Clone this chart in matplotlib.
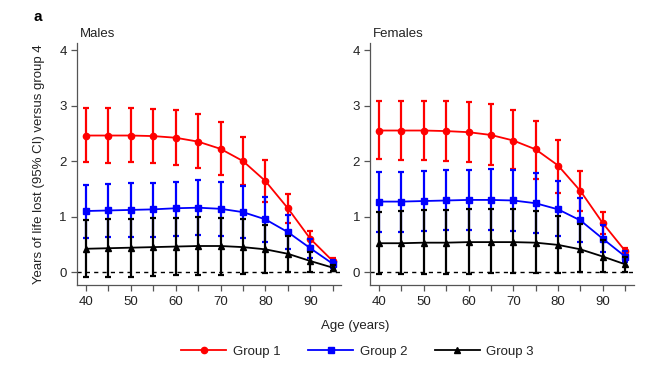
import numpy as np
import matplotlib
matplotlib.use('Agg')
import matplotlib.pyplot as plt

plt.rcParams['font.family'] = ['Liberation Sans', 'DejaVu Sans']

ages = [40, 45, 50, 55, 60, 65, 70, 75, 80, 85, 90, 95]
groups = ['Group 1', 'Group 2', 'Group 3']

# males: mean, upper, lower (years of life lost vs group 4)
m_g1 = [2.46, 2.46, 2.46, 2.45, 2.42, 2.35, 2.22, 2.00, 1.64, 1.15, 0.60, 0.20]
m_g1_hi = [2.95, 2.95, 2.95, 2.94, 2.92, 2.84, 2.70, 2.43, 2.02, 1.40, 0.74, 0.25]
m_g1_lo = [1.98, 1.97, 1.98, 1.96, 1.93, 1.87, 1.75, 1.57, 1.27, 0.88, 0.47, 0.15]
m_g2 = [1.10, 1.11, 1.12, 1.13, 1.15, 1.16, 1.14, 1.08, 0.95, 0.72, 0.43, 0.15]
m_g2_hi = [1.57, 1.59, 1.60, 1.61, 1.63, 1.65, 1.63, 1.55, 1.36, 1.03, 0.60, 0.22]
m_g2_lo = [0.62, 0.63, 0.64, 0.64, 0.65, 0.66, 0.65, 0.62, 0.54, 0.42, 0.26, 0.08]
m_g3 = [0.42, 0.43, 0.44, 0.45, 0.46, 0.47, 0.47, 0.45, 0.41, 0.33, 0.20, 0.08]
m_g3_hi = [0.94, 0.95, 0.96, 0.97, 0.98, 0.99, 0.98, 0.95, 0.85, 0.65, 0.37, 0.13]
m_g3_lo = [-0.09, -0.08, -0.08, -0.07, -0.06, -0.05, -0.05, -0.04, -0.02, 0.0, 0.01, 0.02]

# females
f_g1 = [2.55, 2.55, 2.55, 2.54, 2.52, 2.47, 2.37, 2.21, 1.92, 1.46, 0.88, 0.38]
f_g1_hi = [3.09, 3.09, 3.09, 3.09, 3.06, 3.02, 2.92, 2.73, 2.38, 1.82, 1.08, 0.43]
f_g1_lo = [2.03, 2.02, 2.02, 2.01, 1.98, 1.93, 1.85, 1.68, 1.43, 1.10, 0.68, 0.33]
f_g2 = [1.27, 1.27, 1.28, 1.29, 1.30, 1.30, 1.29, 1.24, 1.13, 0.93, 0.60, 0.28]
f_g2_hi = [1.81, 1.81, 1.82, 1.83, 1.84, 1.85, 1.84, 1.78, 1.64, 1.33, 0.85, 0.38]
f_g2_lo = [0.73, 0.73, 0.74, 0.75, 0.75, 0.75, 0.74, 0.71, 0.65, 0.54, 0.36, 0.18]
f_g3 = [0.52, 0.52, 0.53, 0.53, 0.54, 0.54, 0.54, 0.53, 0.49, 0.41, 0.28, 0.14]
f_g3_hi = [1.09, 1.10, 1.11, 1.12, 1.13, 1.13, 1.13, 1.10, 1.01, 0.86, 0.58, 0.28]
f_g3_lo = [-0.04, -0.03, -0.03, -0.03, -0.03, -0.02, -0.02, -0.01, -0.01, 0.0, 0.0, 0.0]

colors = ['#ff0000', '#0000ff', '#000000']
markers = ['o', 's', '^']
msizes = [4.5, 5, 4]
fs = 9.5
txt = '#222222'

fig = plt.figure(figsize=(6.5, 3.69), dpi=100)
ax_m = fig.add_axes([0.119, 0.228, 0.406, 0.656])
ax_f = fig.add_axes([0.570, 0.228, 0.405, 0.656])

panels = [
    (ax_m, 'Males', [(m_g1, m_g1_lo, m_g1_hi), (m_g2, m_g2_lo, m_g2_hi), (m_g3, m_g3_lo, m_g3_hi)]),
    (ax_f, 'Females', [(f_g1, f_g1_lo, f_g1_hi), (f_g2, f_g2_lo, f_g2_hi), (f_g3, f_g3_lo, f_g3_hi)]),
]

handles = []
for ax, title, series in panels:
    ax.axhline(0, color='black', linestyle=(0, (3, 3)), linewidth=1, zorder=1)
    hs = []
    for i, (mean, lo, hi) in enumerate(series):
        mean = np.array(mean)
        err = [mean - np.array(lo), np.array(hi) - mean]
        ax.errorbar(ages, mean, yerr=err, fmt='none', ecolor=colors[i],
                    elinewidth=1.6, capsize=2.5, capthick=1.6, zorder=2 + i)
        h, = ax.plot(ages, mean, color=colors[i], marker=markers[i],
                     markersize=msizes[i], linewidth=1.3, zorder=2 + i, label=groups[i])
        hs.append(h)
    handles = hs
    ax.set_xlim(38.1, 96.9)
    ax.set_ylim(-0.23, 4.13)
    ax.set_xticks(ages)
    ax.set_xticklabels([str(a) if a % 10 == 0 else '' for a in ages])
    ax.set_yticks([0, 1, 2, 3, 4])
    for s in ['top', 'right']:
        ax.spines[s].set_visible(False)
    for s in ['left', 'bottom']:
        ax.spines[s].set_color('#555555')
        ax.spines[s].set_linewidth(0.9)
    ax.tick_params(direction='out', length=4, width=0.9, color='#555555',
                   labelsize=fs, labelcolor=txt)
    ax.tick_params(axis='x', pad=4)
    ax.set_title(title, loc='left', fontsize=fs, color=txt, pad=4, x=0.01)

fig.text(0.06, 0.556, 'Years of life lost (95% CI) versus group 4', rotation=90,
         ha='center', va='center', fontsize=fs, color=txt)
fig.text(0.547, 0.117, 'Age (years)', ha='center', va='center', fontsize=fs, color=txt)
fig.text(0.052, 0.955, 'a', fontsize=11, fontweight='bold', ha='left', va='center')

fig.legend(handles=handles, labels=groups, loc='center', bbox_to_anchor=(0.55, 0.047),
           ncol=3, frameon=False, fontsize=fs, handlelength=3.4, handletextpad=0.5,
           columnspacing=2.1, labelcolor=txt)

fig.savefig('out.png', dpi=100)
